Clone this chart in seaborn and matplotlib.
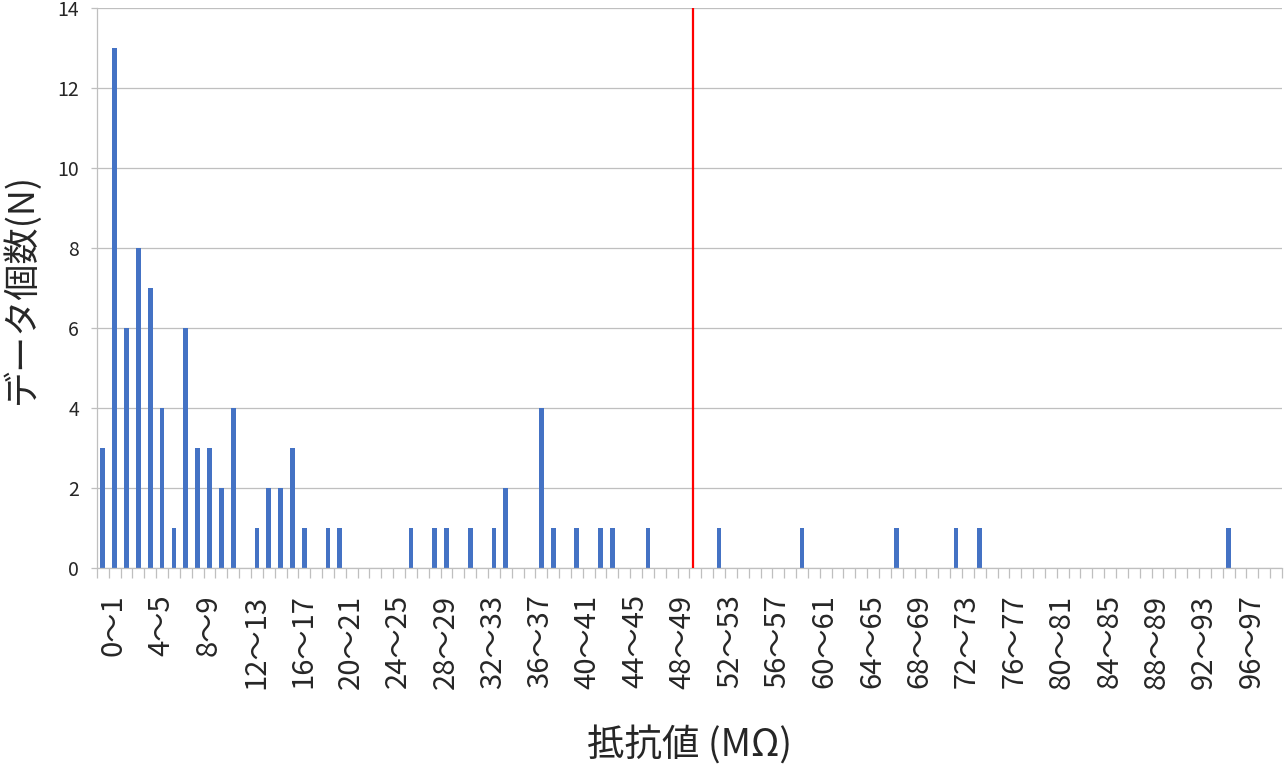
import matplotlib
matplotlib.use("Agg")
import matplotlib.pyplot as plt
import matplotlib.transforms as mtransforms
import seaborn as sns
import pandas as pd

sns.set_theme(style="white")
plt.rcParams['font.family'] = ['Noto Sans CJK JP', 'DejaVu Sans']

# resistance bins 0~1 ... 99~100 (MΩ)
bin_starts = list(range(100))
bin_labels = [f"{i}～{i + 1}" for i in bin_starts]

# counts per bin
counts = [
    3, 13, 6, 8, 7, 4, 1, 6, 3, 3,
    2, 4, 0, 1, 2, 2, 3, 1, 0, 1,
    1, 0, 0, 0, 0, 0, 1, 0, 1, 1,
    0, 1, 0, 1, 2, 0, 0, 4, 1, 0,
    1, 0, 1, 1, 0, 0, 1, 0, 0, 0,
    0, 0, 1, 0, 0, 0, 0, 0, 0, 1,
    0, 0, 0, 0, 0, 0, 0, 1, 0, 0,
    0, 0, 1, 0, 1, 0, 0, 0, 0, 0,
    0, 0, 0, 0, 0, 0, 0, 0, 0, 0,
    0, 0, 0, 0, 0, 1, 0, 0, 0, 0,
]
label_every = 4
threshold_pos = 49.8  # red limit line (about 50 MΩ)

df = pd.DataFrame({"bin": bin_labels, "count": counts})

fig, ax = plt.subplots(figsize=(12.84, 7.66), dpi=100)
fig.subplots_adjust(left=0.0755, right=0.9984, top=0.9896, bottom=0.2585)

sns.barplot(data=df, x="bin", y="count", order=bin_labels, color="#4472C4",
            saturation=1, width=0.4, linewidth=0, ax=ax)

ax.axvline(threshold_pos, color="#FF0000", lw=1.6, zorder=3)

ax.set_xlim(-0.5, len(bin_labels) - 0.5)
ax.set_ylim(0, 14)
ax.set_yticks(range(0, 15, 2))
ax.yaxis.grid(True, color="#BFBFBF", lw=0.9)
ax.set_axisbelow(True)

# labels every 4 bins, tick marks on every bin boundary
ax.set_xticks([i for i in bin_starts if i % label_every == 0])
ax.set_xticklabels([bin_labels[i] for i in bin_starts if i % label_every == 0],
                   rotation=90, fontsize=21)
ax.set_xticks([i - 0.5 for i in range(len(bin_labels) + 1)], minor=True)
ax.tick_params(axis="x", which="major", length=0, pad=19)
ax.tick_params(axis="x", which="minor", length=7, width=0.9, color="#BFBFBF",
               bottom=True)
ax.tick_params(axis="y", length=4, width=0.9, color="#BFBFBF", pad=9,
               labelsize=14, left=True)
offset = mtransforms.ScaledTranslation(11 / 100, 0, fig.dpi_scale_trans)
for lab in ax.get_xticklabels():
    lab.set_transform(lab.get_transform() + offset)

for side in ["top", "right"]:
    ax.spines[side].set_visible(False)
for side in ["left", "bottom"]:
    ax.spines[side].set_color("#BFBFBF")
    ax.spines[side].set_linewidth(0.9)

ax.set_xlabel("抵抗値 (MΩ)", fontsize=27, va="center")
ax.set_ylabel("データ個数(N)", fontsize=26, va="center")
ax.xaxis.set_label_coords(0.5, -0.316)
ax.yaxis.set_label_coords(-0.064, 0.5)

fig.savefig("out.png", dpi=100, facecolor="white")
